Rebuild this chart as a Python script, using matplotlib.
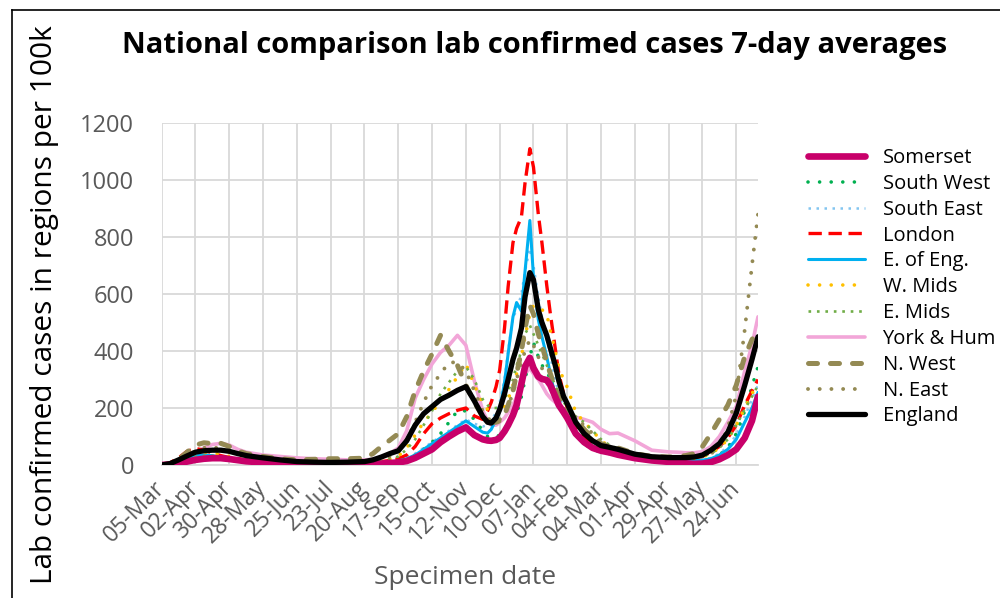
import datetime as dt

import matplotlib
matplotlib.use("Agg")
import matplotlib.pyplot as plt
from matplotlib.lines import Line2D

# ── Data: 7-day case rates per 100k ─────────────────────────────────────────
START = dt.date(2020, 3, 5)

# day offsets from 05-Mar-2020 (denser round the Christmas peak)
day_offsets = [
    0, 7, 14, 21, 28, 35, 42, 49, 56, 63, 70, 84, 98, 112, 126, 140, 154, 168, 175, 182, 189,
    196, 203, 210, 217, 224, 231, 238, 245, 252, 259, 266,
    270, 273, 277, 280, 284, 287, 291, 294, 298, 301, 305, 308, 312, 315, 319, 322, 326, 329, 333, 336,
    343, 350, 357, 364, 371, 378, 392, 406, 420,
    427, 434, 441, 448, 455, 462, 469, 476, 483, 489, 494,
]

somerset = [
    0, 2, 6, 12, 18, 22, 24, 24, 21, 17, 13, 9, 6, 4, 3, 3, 3, 4, 4, 5, 7,
    9, 14, 25, 40, 55, 80, 100, 118, 132, 105, 90,
    86, 85, 88, 95, 118, 140, 175, 210, 285, 345, 376, 340, 310, 302, 298, 280, 240, 210, 185, 165,
    110, 80, 60, 50, 44, 36, 24, 16, 11,
    8, 6, 4, 5, 10, 20, 35, 55, 95, 155, 240,
]
south_west = [
    0, 2, 8, 15, 22, 26, 28, 26, 22, 18, 14, 9, 5, 3, 3, 3, 4, 5, 6, 8, 10,
    15, 22, 35, 55, 80, 110, 150, 190, 190, 160, 120,
    100, 95, 98, 105, 125, 150, 170, 180, 240, 300, 380, 430, 380, 350, 330, 300, 250, 215, 180, 160,
    110, 75, 55, 45, 40, 32, 22, 16, 12,
    10, 9, 9, 12, 20, 35, 60, 110, 190, 275, 345,
]
south_east = [
    0, 3, 10, 20, 30, 32, 30, 26, 22, 17, 13, 8, 5, 4, 3, 3, 4, 5, 6, 8, 10,
    15, 25, 40, 60, 80, 100, 120, 140, 160, 145, 135,
    140, 155, 185, 220, 300, 400, 520, 540, 600, 680, 760, 700, 590, 520, 440, 380, 300, 250, 200, 175,
    115, 80, 60, 48, 42, 35, 24, 17, 14,
    13, 13, 15, 18, 25, 40, 65, 105, 170, 230, 280,
]
london = [
    0, 8, 25, 48, 58, 52, 42, 33, 26, 20, 15, 10, 6, 5, 5, 5, 6, 8, 10, 12, 16,
    22, 35, 65, 110, 145, 165, 180, 192, 200, 172, 160,
    190, 220, 275, 333, 480, 626, 780, 830, 870, 990, 1110, 1045, 880, 780, 630, 530, 410, 320, 250, 200,
    130, 95, 72, 60, 55, 48, 35, 25, 22,
    22, 22, 24, 30, 45, 65, 95, 140, 210, 260, 300,
]
east_eng = [
    0, 3, 12, 22, 32, 35, 33, 28, 24, 19, 15, 10, 6, 4, 3, 3, 4, 5, 6, 8, 10,
    14, 22, 35, 55, 75, 95, 115, 135, 155, 135, 115,
    112, 125, 160, 190, 290, 390, 520, 570, 540, 680, 858, 660, 510, 450, 380, 320, 240, 210, 180, 160,
    105, 75, 58, 48, 42, 35, 25, 18, 15,
    14, 14, 15, 17, 22, 35, 55, 90, 150, 200, 255,
]
w_mids = [
    0, 4, 15, 30, 42, 45, 42, 36, 30, 24, 18, 12, 8, 6, 5, 5, 6, 8, 10, 14, 20,
    30, 60, 105, 150, 185, 225, 265, 310, 355, 280, 215,
    195, 185, 178, 178, 205, 230, 280, 320, 380, 450, 530, 560, 555, 545, 530, 470, 400, 340, 300, 273,
    185, 150, 120, 85, 65, 55, 35, 25, 22,
    22, 22, 24, 28, 40, 60, 90, 140, 200, 250, 290,
]
e_mids = [
    0, 3, 10, 20, 28, 32, 32, 30, 26, 22, 18, 14, 12, 12, 12, 9, 8, 9, 10, 14, 20,
    30, 55, 90, 140, 190, 250, 290, 330, 345, 300, 230,
    210, 200, 200, 205, 230, 260, 300, 350, 400, 460, 490, 460, 420, 390, 350, 320, 280, 250, 220, 205,
    170, 150, 120, 90, 70, 58, 40, 30, 25,
    24, 24, 26, 30, 40, 60, 90, 140, 195, 240, 280,
]
york_hum = [
    0, 3, 10, 25, 45, 60, 72, 76, 70, 55, 45, 35, 30, 25, 22, 20, 18, 18, 20, 28, 40,
    60, 120, 235, 300, 355, 395, 420, 455, 420, 295, 190,
    155, 140, 140, 150, 165, 185, 210, 240, 290, 320, 340, 320, 300, 280, 250, 235, 220, 210, 195, 185,
    168, 160, 150, 125, 110, 112, 85, 52, 46,
    45, 43, 43, 47, 65, 100, 150, 205, 330, 420, 520,
]
n_west = [
    0, 5, 20, 45, 70, 78, 75, 76, 65, 50, 40, 30, 22, 18, 20, 22, 22, 24, 40, 65, 87,
    110, 170, 260, 330, 390, 455, 400, 350, 280, 220, 170,
    155, 150, 150, 155, 175, 210, 260, 320, 400, 480, 560, 530, 460, 420, 360, 320, 270, 240, 215, 200,
    160, 125, 95, 75, 65, 60, 40, 30, 28,
    30, 33, 40, 65, 110, 160, 210, 280, 380, 440, 470,
]
n_east = [
    0, 3, 12, 30, 50, 60, 62, 58, 50, 40, 32, 22, 14, 10, 8, 7, 8, 10, 14, 20, 30,
    50, 90, 150, 220, 280, 320, 360, 360, 330, 260, 190,
    165, 155, 155, 160, 180, 210, 250, 300, 360, 400, 440, 420, 380, 340, 300, 270, 240, 220, 200, 185,
    160, 140, 110, 80, 65, 55, 40, 30, 25,
    24, 24, 26, 30, 40, 60, 130, 245, 474, 700, 880,
]
england = [
    0, 5, 18, 32, 45, 50, 52, 52, 48, 40, 33, 25, 18, 12, 10, 9, 10, 12, 18, 28, 40,
    50, 85, 140, 180, 205, 230, 245, 262, 275, 225, 170,
    150, 147, 165, 195, 250, 300, 370, 410, 480, 590, 675, 650, 545, 500, 455, 410, 350, 295, 240, 215,
    150, 110, 85, 68, 62, 55, 38, 29, 26,
    26, 26, 28, 35, 52, 75, 115, 182, 280, 370, 450,
]

tick_offsets = list(range(0, 477, 28))  # 05-Mar, 02-Apr, ... 24-Jun

# ── Styling ────────────────────────────────────────────────────────────────
GREY = "#595959"
plt.rcParams["font.family"] = ["Open Sans", "DejaVu Sans"]

dates = [START + dt.timedelta(days=d) for d in day_offsets]
tick_dates = [START + dt.timedelta(days=d) for d in tick_offsets]

# (label, values, colour, width, linestyle, capstyle, zorder)
series = [
    ("Somerset",   somerset,   "#C8006A", 4.8, "-",                 "round", 11),
    ("South West", south_west, "#00B050", 2.6, (0, (0.01, 3.2)),    "round", 4),
    ("South East", south_east, "#83C5F0", 1.8, (0, (1.0, 2.2)),     "butt",  3),
    ("London",     london,     "#FF0000", 2.4, (0, (4, 2)),         "butt",  5),
    ("E. of Eng.", east_eng,   "#00B0F0", 2.2, "-",                 "round", 6),
    ("W. Mids",    w_mids,     "#FFC000", 2.6, (0, (0.01, 3.2)),    "round", 7),
    ("E. Mids",    e_mids,     "#70AD47", 1.9, (0, (1.0, 2.2)),     "butt",  8),
    ("York & Hum", york_hum,   "#F2A6D8", 2.6, "-",                 "round", 2),
    ("N. West",    n_west,     "#948A54", 3.6, (0, (1.8, 2.6)),     "round", 9),
    ("N. East",    n_east,     "#948A54", 2.8, (0, (0.01, 3.0)),    "round", 10),
    ("England",    england,    "#000000", 3.8, "-",                 "round", 12),
]

fig = plt.figure(figsize=(10.0, 5.98), dpi=100)
ax = fig.add_axes([0.1617, 0.2224, 0.5963, 0.5719])

handles = []
for label, vals, colour, lw, ls, cap, z in series:
    line, = ax.plot(dates, vals, color=colour, lw=lw, linestyle=ls,
                    dash_capstyle=cap, solid_capstyle="round", zorder=z, label=label)
    handles.append(line)

ax.set_xlim(dates[0], dates[-1])
ax.set_ylim(0, 1200)
ax.set_yticks(range(0, 1201, 200))
ax.set_xticks(tick_dates)
ax.set_xticklabels([d.strftime("%d-%b") for d in tick_dates], rotation=45,
                   ha="right", va="center", rotation_mode="anchor")
ax.grid(True, color="#D9D9D9", lw=1.3)
ax.set_axisbelow(True)
for side in ("top", "right", "left"):
    ax.spines[side].set_visible(False)
ax.spines["bottom"].set_color("#D9D9D9")
ax.spines["bottom"].set_linewidth(1.3)
ax.tick_params(axis="y", length=0, pad=20, labelsize=17, labelcolor=GREY)
ax.tick_params(axis="x", length=0, pad=14, labelsize=16.5, labelcolor=GREY)

fig.text(0.535, 1 - 45 / 598, "National comparison lab confirmed cases 7-day averages",
         ha="center", va="center", fontsize=21, fontweight="bold")
fig.text(0.045, 1 - 305 / 598, "Lab confirmed cases in regions per 100k",
         rotation=90, ha="center", va="center", fontsize=21.5)
fig.text(0.465, 1 - 578 / 598, "Specimen date", ha="center", va="center",
         fontsize=19, color=GREY)

fig.legend(handles=handles, loc="upper left", bbox_to_anchor=(0.808, 1 - 148 / 598),
           frameon=False, fontsize=14.5, handlelength=2.85, handletextpad=0.85,
           labelspacing=0.29, borderpad=0, borderaxespad=0)

# chart border, as in the cropped source
fig.add_artist(Line2D([0.012, 0.012], [0, 1 - 10 / 598], color="black", lw=1.2))
fig.add_artist(Line2D([0.012, 1.0], [1 - 10 / 598, 1 - 10 / 598], color="black", lw=1.2))

fig.savefig("out.png", dpi=100)
plt.close(fig)
